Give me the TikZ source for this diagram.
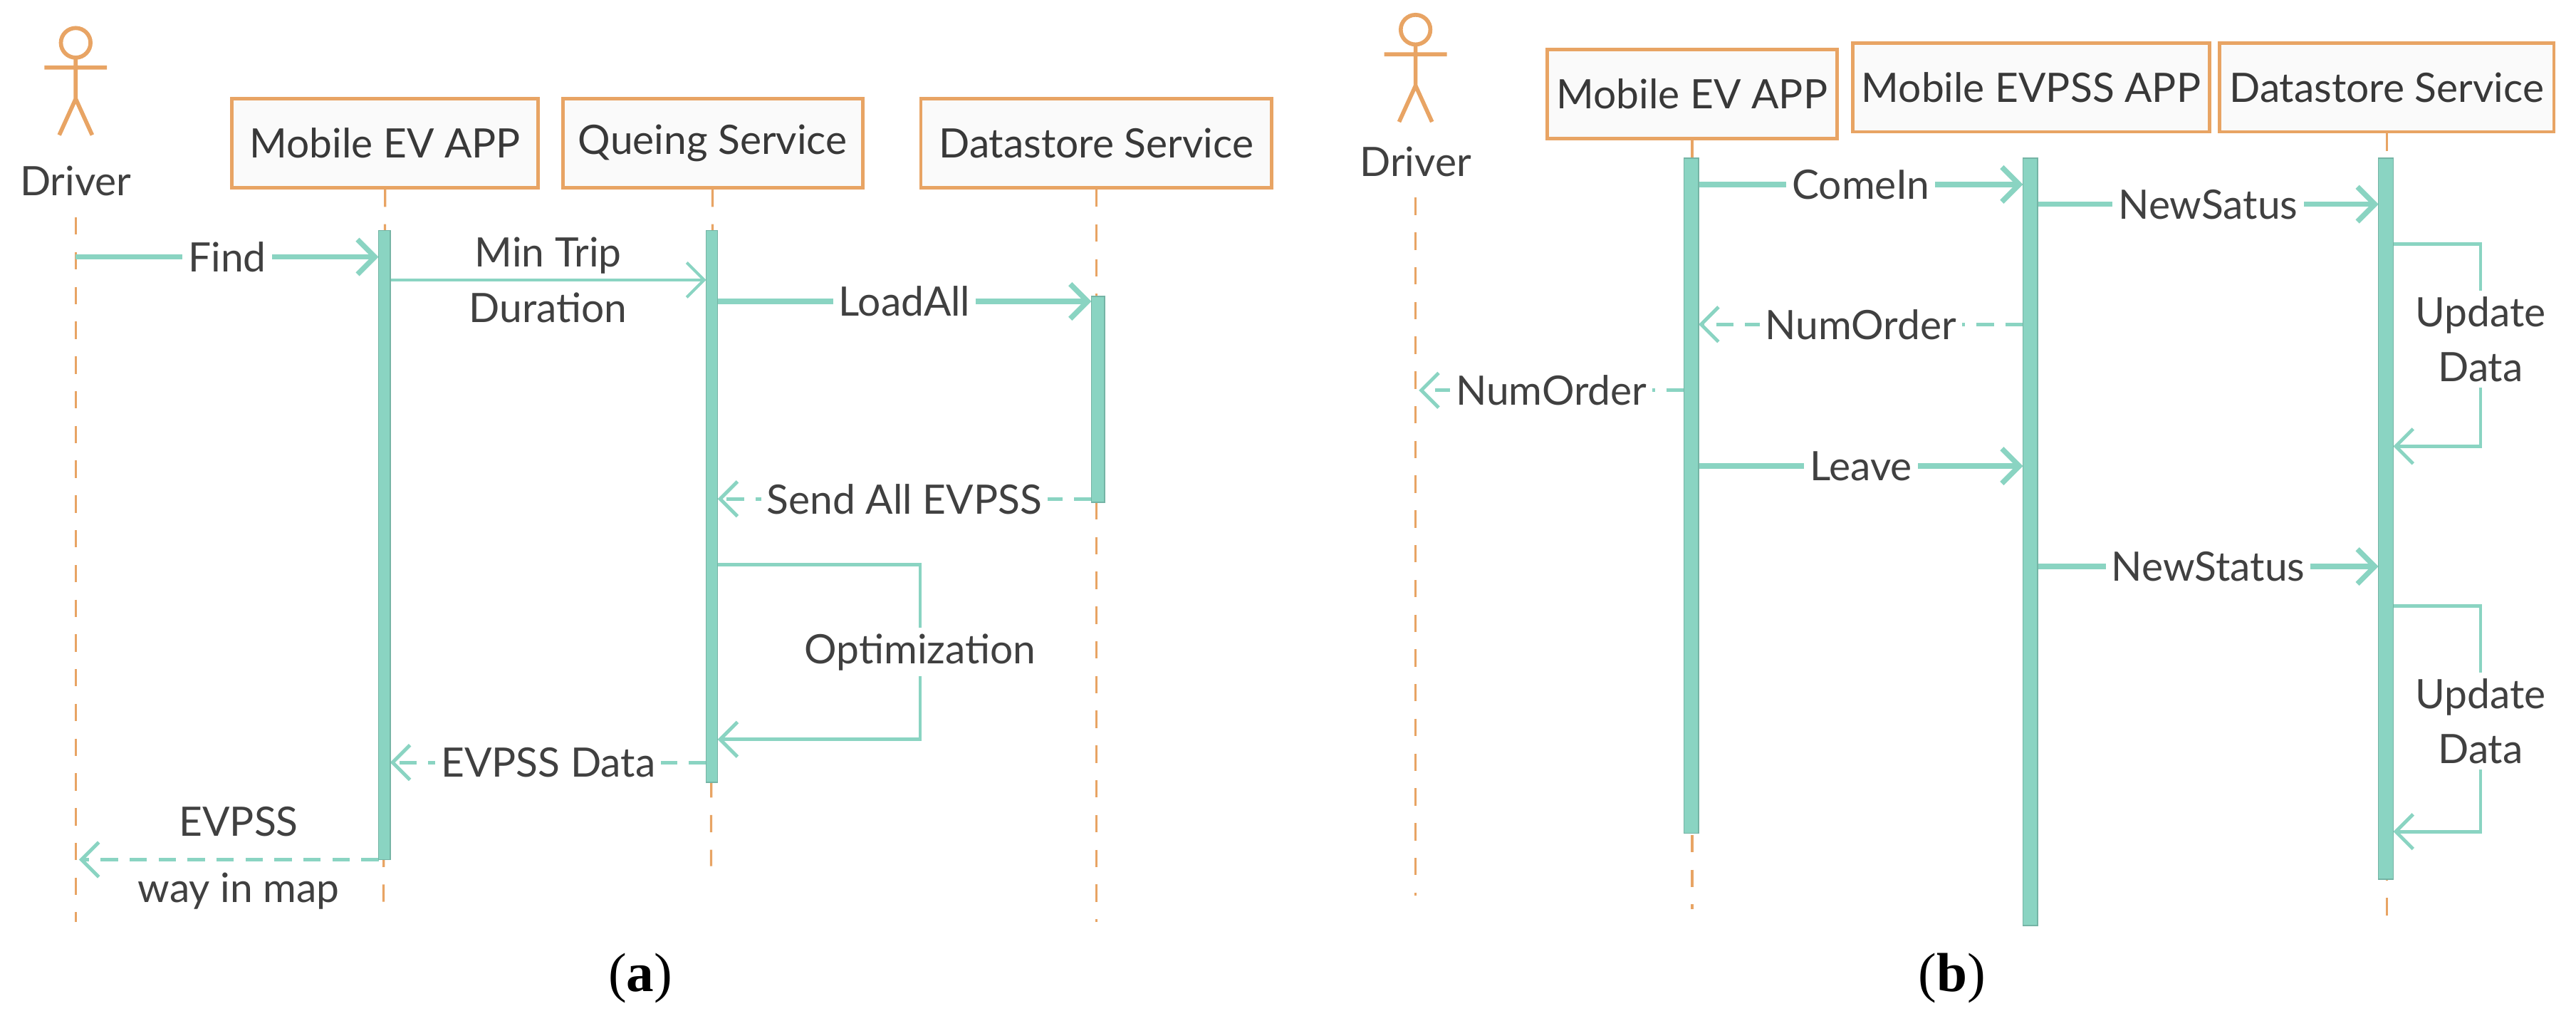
\documentclass[tikz,border=0pt]{standalone}
\usepackage{fontspec}
\setmainfont{Lato}
\newfontfamily\capfont{Liberation Serif}
\usetikzlibrary{arrows.meta,positioning,calc}
\definecolor{mint}{HTML}{8AD4C2}
\definecolor{sand}{HTML}{E8A464}

\begin{document}
\begin{tikzpicture}[
    x=0.01cm, y=-0.01cm,
    font=\fontsize{7}{9.5}\selectfont\color{black!75},
    actor/.style={draw=sand, line width=0.6pt, fill=black!2, minimum height=0.54cm, inner xsep=1.5pt, font=\fontsize{7}{9}\selectfont\color{black!78}},
    life/.style={draw=sand, dashed, thin},
    bar/.style={fill=mint, draw=mint!85!black, line width=0.2pt},
    msg/.style={-{Straight Barb[length=3pt]}, draw=mint, line width=0.9pt},
    reply/.style={msg, densely dashed, line width=0.6pt},
    lbl/.style={fill=white, inner sep=1pt, align=center},
    caption/.style={font=\capfont\fontsize{9.5}{11}\selectfont\color{black}},
    stick/.style={draw=sand, line width=0.7pt}
]
\useasboundingbox (0,0) rectangle (1565,623);

% ---- actors
\foreach \x/\y in {46/26, 860/18} {
  \draw[stick] (\x,\y) circle (9);
  \draw[stick] (\x,\y+9) -- (\x,\y+34) (\x-19,\y+15) -- (\x+19,\y+15)
    (\x-10,\y+56) -- (\x,\y+34) -- (\x+10,\y+56);
}

% ---- panel (a)
\node (drvA) at (46,110) {Driver};
\node[actor, minimum width=1.86cm] (evA) at (234,87) {Mobile EV APP};
\node[actor, minimum width=1.82cm] (queA) at (433,87) {Queing Service};
\node[actor, minimum width=2.13cm] (dsA) at (666,87) {Datastore Service};

\draw[life] (46,132) -- (46,560);
\draw[life] (evA) -- (233,550);
\draw[life] (queA) -- (432,526);
\draw[life] (dsA) -- (666,560);

\draw[msg] (46,156) -- node[lbl] {Find} (230,156);
\draw[msg, line width=0.5pt] (237,170) -- (429,170);
\node[lbl, fill=none] (trip) at (333,170) {Min Trip\\Duration};
\draw[msg] (436,183) -- node[lbl] {LoadAll} (663,183);
\draw[reply] (663,303) -- node[lbl] {Send All EVPSS} (436,303);
\draw[msg, line width=0.6pt] (429,343) -- (559,343) -- (559,449) -- (436,449);
\node[lbl] (opt) at (559,396) {Optimization};
\draw[reply] (429,463) -- node[lbl] {EVPSS Data} (237,463);
\draw[reply] (230,522) -- (48,522);
\node[lbl, fill=none] (way) at (145,521) {EVPSS\\[2pt]way in map};

\draw[bar] (230,140) rectangle (237,522);
\draw[bar] (429,140) rectangle (436,475);
\draw[bar] (663,180) rectangle (671,305);
\node[caption] (capA) at (389,594) {(\textbf{a})};

% ---- panel (b)
\node (drvB) at (860,98) {Driver};
\node[actor, minimum width=1.76cm] (evB) at (1028,57) {Mobile EV APP};
\node[actor, minimum width=2.10cm] (evpB) at (1234,53) {Mobile EVPSS APP};
\node[actor, minimum width=2.03cm] (dsB) at (1450,53) {Datastore Service};

\draw[life] (860,120) -- (860,544);
\draw[life] (evB) -- (1028,552);
\draw[life] (dsB) -- (1450,560);

\draw[msg] (1032,112) -- node[lbl] {ComeIn} (1229,112);
\draw[msg] (1238,124) -- node[lbl] {NewSatus} (1445,124);
\draw[msg, line width=0.6pt] (1454,148) -- (1507,148) -- (1507,271) -- (1454,271);
\node[lbl] (upd1) at (1507,206) {Update\\Data};
\draw[reply] (1229,197) -- node[lbl] {NumOrder} (1032,197);
\draw[reply] (1023,237) -- node[lbl] {NumOrder} (862,237);
\draw[msg] (1032,283) -- node[lbl] {Leave} (1229,283);
\draw[msg] (1238,344) -- node[lbl] {NewStatus} (1445,344);
\draw[msg, line width=0.6pt] (1454,368) -- (1507,368) -- (1507,505) -- (1454,505);
\node[lbl] (upd2) at (1507,438) {Update\\Data};

\draw[bar] (1023,96) rectangle (1032,506);
\draw[bar] (1229,96) rectangle (1238,562);
\draw[bar] (1445,96) rectangle (1454,534);
\node[caption] (capB) at (1186,594) {(\textbf{b})};
\end{tikzpicture}
\end{document}
